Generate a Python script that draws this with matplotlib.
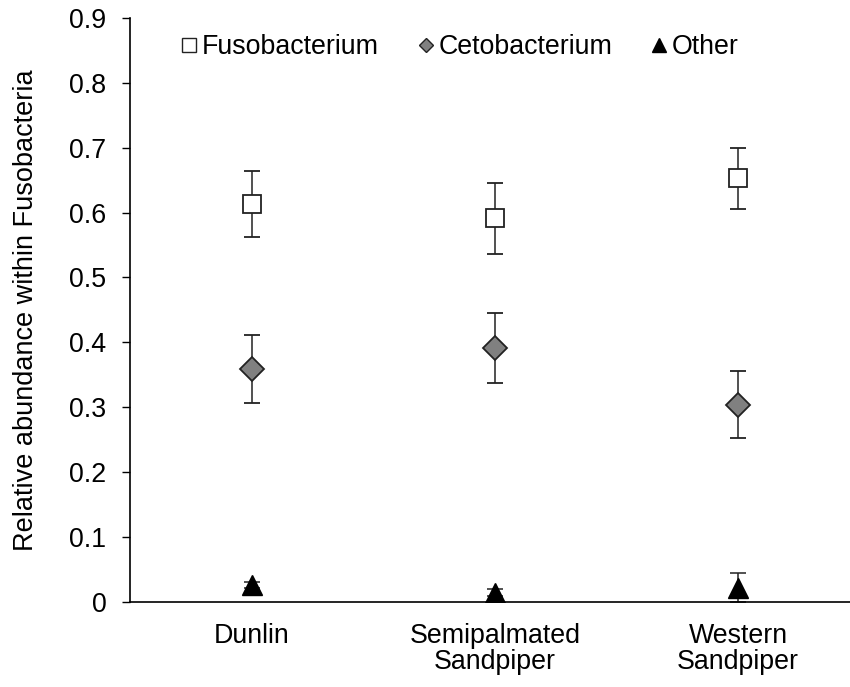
import matplotlib.pyplot as plt
from matplotlib.lines import Line2D

plt.rcParams['font.family'] = ['Liberation Sans', 'DejaVu Sans']

# Data
species = ['Dunlin', 'Semipalmated\nSandpiper', 'Western\nSandpiper']
fuso_mean = [0.613, 0.591, 0.653]
fuso_err = [0.051, 0.055, 0.047]
ceto_mean = [0.359, 0.391, 0.304]
ceto_err = [0.052, 0.054, 0.052]
other_mean = [0.026, 0.014, 0.022]
other_err = [0.005, 0.005, 0.022]

fs = 19.3

fig = plt.figure(figsize=(8.5, 6.87), dpi=100)
ax = fig.add_axes([0.153, 0.124, 0.847, 0.850])

x = [0.5, 1.5, 2.5]
ebar = dict(ecolor='#222222', elinewidth=1.1, capsize=6, capthick=1.1, linestyle='none')

ax.errorbar(x, fuso_mean, yerr=fuso_err, marker='s', markersize=13,
            markerfacecolor='white', markeredgecolor='#222222', markeredgewidth=1.3, **ebar)
ax.errorbar(x, ceto_mean, yerr=ceto_err, marker='D', markersize=12,
            markerfacecolor='#808080', markeredgecolor='#222222', markeredgewidth=1.3, **ebar)
ax.errorbar(x, other_mean, yerr=other_err, marker='^', markersize=14,
            markerfacecolor='black', markeredgecolor='black', **ebar)

ax.set_xlim(0, 2.96)
ax.set_ylim(0, 0.9)
ax.set_yticks([i / 10 for i in range(10)])
ax.set_yticklabels(['0'] + ['%.1f' % (i / 10) for i in range(1, 10)])
ax.set_xticks(x)
ax.set_xticklabels(species, linespacing=1.0)
ax.tick_params(axis='x', length=0, labelsize=fs, pad=15)
ax.tick_params(axis='y', length=6, width=1, labelsize=fs, pad=11)
for s in ['top', 'right']:
    ax.spines[s].set_visible(False)
for s in ['left', 'bottom']:
    ax.spines[s].set_linewidth(1.2)
ax.set_ylabel('Relative abundance within Fusobacteria', fontsize=19.5)
ax.yaxis.set_label_coords(-0.127, 0.5)

handles = [
    Line2D([], [], marker='s', linestyle='none', markersize=9.5,
           markerfacecolor='white', markeredgecolor='#222222'),
    Line2D([], [], marker='D', linestyle='none', markersize=7.2,
           markerfacecolor='#808080', markeredgecolor='#222222'),
    Line2D([], [], marker='^', linestyle='none', markersize=10.5,
           markerfacecolor='black', markeredgecolor='black'),
]
ax.legend(handles, ['Fusobacterium', 'Cetobacterium', 'Other'], ncol=3,
          frameon=False, fontsize=fs, handlelength=0.7, handletextpad=0.12,
          columnspacing=1.4, loc='center left', borderaxespad=0, borderpad=0,
          bbox_to_anchor=(0.069, 0.95))

fig.savefig('out.png', dpi=100)
